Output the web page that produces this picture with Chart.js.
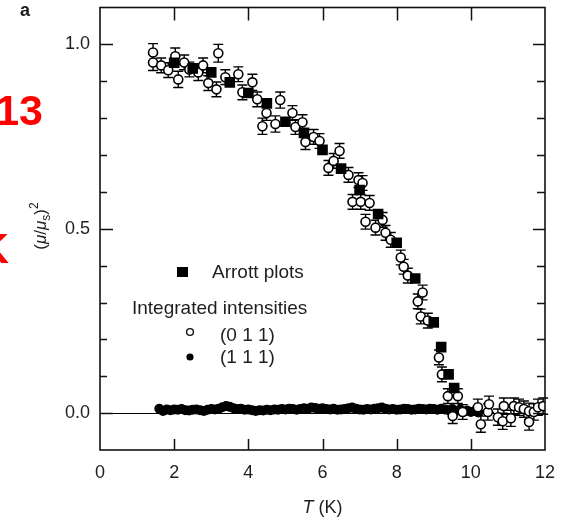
<!DOCTYPE html>
<html>
<head>
<meta charset="utf-8">
<script src="https://cdn.jsdelivr.net/npm/chart.js@4.4.0/dist/chart.umd.min.js"></script>
<style>
html, body { margin: 0; padding: 0; background: #fff; }
#wrap { position: relative; width: 565px; height: 521px; overflow: hidden; }
#chart-mag { position: absolute; left: 0; top: 0; }
.red { position: absolute; color: #ff0000; font-family: "Liberation Sans", Arial, sans-serif; font-weight: bold; font-size: 43px; line-height: 1; white-space: nowrap; }
.panel { position: absolute; left: 20px; top: 1px; font-family: "Liberation Sans", Arial, sans-serif; font-weight: bold; font-size: 18px; line-height: 1; color: #1a1a1a; }
</style>
</head>
<body>
<div id="wrap">
  <canvas id="chart-mag" width="565" height="521"></canvas>
  <div class="panel">a</div>
  <div class="red" style="right:522px; top:89px">13</div>
  <div class="red" style="left:-22px; top:227px">K</div>
</div>
<script>
// Arrott plots (filled squares)
const tArrott = [2.0, 2.5, 3.0, 3.5, 4.0, 4.5, 5.0, 5.5, 6.0, 6.5, 7.0, 7.5, 8.0, 8.5, 9.0, 9.2, 9.4, 9.55]
const vArrott = [0.95, 0.935, 0.924, 0.897, 0.868, 0.84, 0.79, 0.76, 0.714, 0.663, 0.605, 0.54, 0.462, 0.365, 0.246, 0.179, 0.105, 0.068]

// integrated intensity (0 1 1), open circles with error bars
const t011 = [1.43, 1.43, 1.65, 1.84, 2.03, 2.11, 2.27, 2.41, 2.65, 2.78,
    2.92, 3.14, 3.19, 3.38, 3.73, 3.84, 4.11, 4.24, 4.38, 4.49,
    4.73, 4.86, 5.19, 5.27, 5.46, 5.54, 5.76, 5.92, 6.16, 6.3,
    6.46, 6.7, 6.81, 6.97, 7.03, 7.08, 7.16, 7.27, 7.43, 7.62,
    7.7, 7.84, 8.11, 8.19, 8.3, 8.57, 8.65, 8.7, 8.84, 9.14,
    9.22, 9.38, 9.51, 9.65, 9.78, 10.19, 10.27, 10.46, 10.49, 10.73,
    10.86, 10.89, 11.08, 11.16, 11.3, 11.43, 11.57, 11.57, 11.7, 11.81, 11.95]
const v011 = [0.978, 0.951, 0.943, 0.93, 0.968, 0.905, 0.951, 0.932, 0.924, 0.943,
    0.895, 0.878, 0.976, 0.911, 0.919, 0.87, 0.897, 0.851, 0.778, 0.814,
    0.784, 0.849, 0.814, 0.776, 0.789, 0.735, 0.749, 0.738, 0.665, 0.684,
    0.711, 0.646, 0.573, 0.632, 0.573, 0.624, 0.519, 0.57, 0.503, 0.524,
    0.489, 0.47, 0.422, 0.397, 0.373, 0.303, 0.262, 0.327, 0.251, 0.151,
    0.105, 0.046, -0.008, 0.046, 0.003, 0.016, -0.03, 0.003, 0.024, -0.011,
    -0.022, 0.019, -0.014, 0.019, 0.016, 0.011, -0.024, 0.005, 0.003, 0.016, 0.019]
const err011 = [0.024, 0.022, 0.02, 0.02, 0.022, 0.022, 0.02, 0.02, 0.022, 0.02,
    0.02, 0.02, 0.024, 0.02, 0.02, 0.02, 0.022, 0.02, 0.022, 0.02,
    0.022, 0.022, 0.02, 0.02, 0.02, 0.02, 0.02, 0.02, 0.02, 0.02,
    0.02, 0.02, 0.02, 0.02, 0.02, 0.02, 0.02, 0.02, 0.02, 0.02,
    0.02, 0.02, 0.02, 0.02, 0.02, 0.02, 0.02, 0.02, 0.02, 0.02,
    0.02, 0.02, 0.02, 0.02, 0.02, 0.022, 0.022, 0.022, 0.022, 0.022,
    0.022, 0.022, 0.022, 0.022, 0.022, 0.022, 0.022, 0.022, 0.022, 0.022, 0.022]

// integrated intensity (1 1 1), filled dots
const t111 = [1.6, 1.7, 1.8, 1.9, 2.0, 2.1, 2.2, 2.3, 2.4, 2.5, 2.6, 2.7, 2.8, 2.9,
    3.0, 3.1, 3.2, 3.3, 3.4, 3.5, 3.6, 3.7, 3.8, 3.9, 4.0, 4.1, 4.2, 4.3, 4.4, 4.5,
    4.6, 4.7, 4.8, 4.9, 5.0, 5.1, 5.2, 5.3, 5.4, 5.5, 5.6, 5.7, 5.8, 5.9, 6.0, 6.1,
    6.2, 6.3, 6.4, 6.5, 6.6, 6.7, 6.8, 6.9, 7.0, 7.1, 7.2, 7.3, 7.4, 7.5, 7.6, 7.7,
    7.8, 7.9, 8.0, 8.1, 8.2, 8.3, 8.4, 8.5, 8.6, 8.7, 8.8, 8.9, 9.0, 9.1, 9.2, 9.3,
    9.4, 9.5, 9.6, 9.7, 9.8, 9.9, 10.0, 10.1, 10.2]
const v111 = [0.012, 0.006, 0.010, 0.008, 0.010, 0.009, 0.011, 0.008, 0.007, 0.009, 0.010, 0.008, 0.006, 0.009,
    0.011, 0.010, 0.012, 0.016, 0.019, 0.017, 0.013, 0.011, 0.012, 0.009, 0.010, 0.008, 0.006, 0.008, 0.007, 0.009,
    0.008, 0.010, 0.009, 0.011, 0.010, 0.012, 0.011, 0.009, 0.011, 0.013, 0.012, 0.015, 0.014, 0.012, 0.013, 0.011,
    0.010, 0.012, 0.009, 0.010, 0.011, 0.013, 0.015, 0.012, 0.010, 0.009, 0.011, 0.010, 0.012, 0.013, 0.015, 0.012,
    0.010, 0.011, 0.009, 0.010, 0.012, 0.011, 0.009, 0.010, 0.012, 0.011, 0.010, 0.012, 0.011, 0.009, 0.012, 0.010,
    0.008, 0.011, 0.006, 0.009, 0.004, 0.007, 0.003, 0.006, 0.002]

const xTickValues = [2, 4, 6, 8, 10]
const yMajor = [0, 0.5, 1.0]

const FONT = '"Liberation Sans", Arial, sans-serif'
const INK = '#1e1e22'

function pts(ts, vs){
    return ts.map(function(t, i){ return {x : t, y : vs[i]} })
}

const decor = {
    id : 'decor',
    beforeDatasetsDraw : function(chart){
        const ctx = chart.ctx, xs = chart.scales.x, ys = chart.scales.y
        ctx.save()
        ctx.strokeStyle = '#000'
        ctx.lineWidth = 1
        const y0 = Math.round(ys.getPixelForValue(0)) + 0.5
        ctx.beginPath()
        ctx.moveTo(xs.left, y0)
        ctx.lineTo(xs.right, y0)
        ctx.stroke()
        ctx.restore()
    },
    beforeDatasetDraw : function(chart, args){
        if (args.meta.label !== '(0 1 1)') return
        const ctx = chart.ctx, xs = chart.scales.x, ys = chart.scales.y
        ctx.save()
        ctx.strokeStyle = '#000'
        ctx.lineWidth = 1.4
        for (let i = 0; i < t011.length; i++){
            const px = xs.getPixelForValue(t011[i])
            const top = ys.getPixelForValue(v011[i] + err011[i])
            const bot = ys.getPixelForValue(v011[i] - err011[i])
            ctx.beginPath()
            ctx.moveTo(px, top); ctx.lineTo(px, bot)
            ctx.moveTo(px - 5, top); ctx.lineTo(px + 5, top)
            ctx.moveTo(px - 5, bot); ctx.lineTo(px + 5, bot)
            ctx.stroke()
        }
        ctx.restore()
    },
    afterDatasetsDraw : function(chart){
        const ctx = chart.ctx, xs = chart.scales.x, ys = chart.scales.y
        const a = chart.chartArea
        ctx.save()
        ctx.strokeStyle = '#111'
        ctx.lineWidth = 1.6
        ctx.strokeRect(a.left, a.top, a.right - a.left, a.bottom - a.top)

        // tick marks pointing inward
        ctx.lineWidth = 1.5
        ctx.beginPath()
        xTickValues.forEach(function(v){
            const px = Math.round(xs.getPixelForValue(v)) + 0.5
            ctx.moveTo(px, a.bottom); ctx.lineTo(px, a.bottom - 11)
            ctx.moveTo(px, a.top); ctx.lineTo(px, a.top + 13)
        })
        ys.ticks.forEach(function(t){
            const v = t.value
            if (v < -0.09 || v > 1.09) return
            const major = yMajor.some(function(m){ return Math.abs(m - v) < 1e-6 })
            const py = Math.round(ys.getPixelForValue(v)) + 0.5
            ctx.moveTo(a.left, py); ctx.lineTo(a.left + (major ? 13 : 7), py)
            ctx.moveTo(a.right, py); ctx.lineTo(a.right - (major ? 12 : 8), py)
        })
        ctx.stroke()

        // legend
        ctx.fillStyle = INK
        ctx.font = '19px ' + FONT
        ctx.textBaseline = 'alphabetic'
        ctx.textAlign = 'left'
        ctx.fillText('Arrott plots', 212, 278)
        ctx.fillText('Integrated intensities', 132, 314)
        ctx.fillText('(0 1 1)', 220, 341)
        ctx.fillText('(1 1 1)', 220, 363)
        ctx.fillStyle = '#000'
        ctx.fillRect(177, 267, 11, 10)
        ctx.beginPath()
        ctx.arc(190, 357, 3.6, 0, Math.PI * 2)
        ctx.fill()
        ctx.lineWidth = 1.4
        ctx.beginPath()
        ctx.arc(190, 332, 3.4, 0, Math.PI * 2)
        ctx.stroke()

        // x title: T (K)
        ctx.font = 'italic 18px ' + FONT
        const wT = ctx.measureText('T').width
        ctx.font = '18px ' + FONT
        const wK = ctx.measureText(' (K)').width
        const cx = (a.left + a.right) / 2
        let x0 = cx - (wT + wK) / 2
        ctx.fillStyle = INK
        ctx.font = 'italic 18px ' + FONT
        ctx.fillText('T', x0, 513)
        ctx.font = '18px ' + FONT
        ctx.fillText(' (K)', x0 + wT, 513)

        // y title: (mu/mu_s)^2, rotated
        ctx.translate(46, 226)
        ctx.rotate(-Math.PI / 2)
        const parts = [
            ['(', '17px', 0], ['μ', 'italic 17px', 0], ['/', '17px', 0], ['μ', 'italic 17px', 0],
            ['s', '12px', 4], [')', '17px', 0], ['2', '12px', -8]
        ]
        let total = 0
        parts.forEach(function(p){ ctx.font = p[1] + ' ' + FONT; total += ctx.measureText(p[0]).width })
        let px = -total / 2
        parts.forEach(function(p){
            ctx.font = p[1] + ' ' + FONT
            ctx.fillText(p[0], px, p[2])
            px += ctx.measureText(p[0]).width
        })
        ctx.restore()
    }
}

new Chart(document.getElementById('chart-mag'),
    {
        type : 'scatter',
        data : {
            datasets : [
                {
                    label : 'Arrott plots',
                    data : pts(tArrott, vArrott),
                    pointStyle : 'rect',
                    pointRadius : 7.5,
                    backgroundColor : '#000',
                    borderWidth : 0
                },
                {
                    label : '(0 1 1)',
                    data : pts(t011, v011),
                    pointStyle : 'circle',
                    pointRadius : 4.5,
                    backgroundColor : '#fff',
                    borderColor : '#000',
                    borderWidth : 1.6
                },
                {
                    label : '(1 1 1)',
                    data : pts(t111, v111),
                    pointStyle : 'circle',
                    pointRadius : 5,
                    backgroundColor : '#000',
                    borderWidth : 0
                }
            ]
        },
        options : {
            responsive : false,
            animation : false,
            events : [],
            layout : { padding : { left : 0, right : 20, top : 7, bottom : 0 } },
            plugins : {
                legend : { display : false },
                tooltip : { enabled : false }
            },
            scales : {
                x : {
                    type : 'linear',
                    min : 0,
                    max : 12,
                    grid : { display : false, drawTicks : false },
                    border : { display : false },
                    ticks : {
                        stepSize : 2,
                        padding : 12,
                        color : INK,
                        font : { family : FONT, size : 18 },
                        maxRotation : 0
                    },
                    afterFit : function(scale){
                        scale.height = 71
                        scale.paddingLeft = 0
                        scale.paddingRight = 0
                    }
                },
                y : {
                    type : 'linear',
                    min : -0.1,
                    max : 1.1,
                    grid : { display : false, drawTicks : false },
                    border : { display : false },
                    ticks : {
                        stepSize : 0.1,
                        padding : 10,
                        color : INK,
                        font : { family : FONT, size : 18 },
                        callback : function(v){
                            const hit = yMajor.find(function(m){ return Math.abs(m - v) < 1e-6 })
                            return hit === undefined ? '' : hit.toFixed(1)
                        }
                    },
                    afterFit : function(scale){
                        scale.width = 100
                        scale.paddingTop = 0
                        scale.paddingBottom = 0
                    }
                }
            }
        },
        plugins : [decor]
    }
)
</script>
</body>
</html>
